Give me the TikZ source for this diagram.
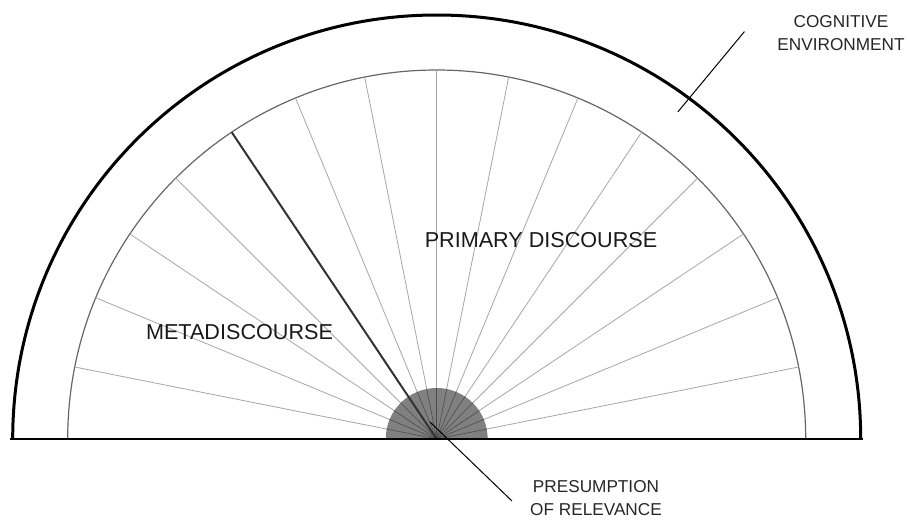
\documentclass[tikz,border=0pt]{standalone}
\usepackage{fontspec}
\setmainfont{Liberation Sans}
\begin{document}
\begin{tikzpicture}[x=0.5pt,y=0.5pt]
\useasboundingbox (0,0) rectangle (907,521);
\coordinate (c) at (436.7,82);
% cognitive environment and discourse arcs
\draw[line width=1.5pt] (c) ++(-424,0) arc[start angle=180,end angle=0,radius=424];
\draw[black!60,line width=0.6pt] (c) ++(-369,0) arc[start angle=180,end angle=0,radius=369] -- cycle;
\foreach \k in {1,...,15}{
  \draw[gray!70,line width=0.4pt] (c) -- ++(\k*11.25:369);}
% presumption of relevance
\fill[black!50] (c) ++(-51,0) arc[start angle=180,end angle=0,radius=51] -- cycle;
\foreach \k in {1,...,15}{\draw[black!70,line width=0.3pt] (c) -- ++(\k*11.25:51);}
\draw[black!80,line width=1pt] (c) -- ++(123.75:369);
\draw[line width=1.4pt] (10,82) -- (863,82);
\node[font=\fontsize{10.8}{12}\selectfont,black!90] (primary) at (541,281) {PRIMARY DISCOURSE};
\node[font=\fontsize{10.8}{12}\selectfont,black!90] (meta) at (239.5,189) {METADISCOURSE};
\node[font=\fontsize{8.6}{11.5}\selectfont,black!85,align=center] (cog) at (841,488) {COGNITIVE\\ENVIRONMENT};
\node[font=\fontsize{8.6}{11.2}\selectfont,black!85,align=center] (pres) at (596,23) {PRESUMPTION\\OF RELEVANCE};
\coordinate (cogtip) at (744.4,489.4);
\coordinate (cogend) at (677.8,409);
\draw[line width=0.5pt] (cogtip) -- (cogend);
\coordinate (prestip) at (430,99);
\coordinate (presend) at (512,20);
\draw[line width=0.5pt] (prestip) -- (presend);
\end{tikzpicture}
\end{document}
